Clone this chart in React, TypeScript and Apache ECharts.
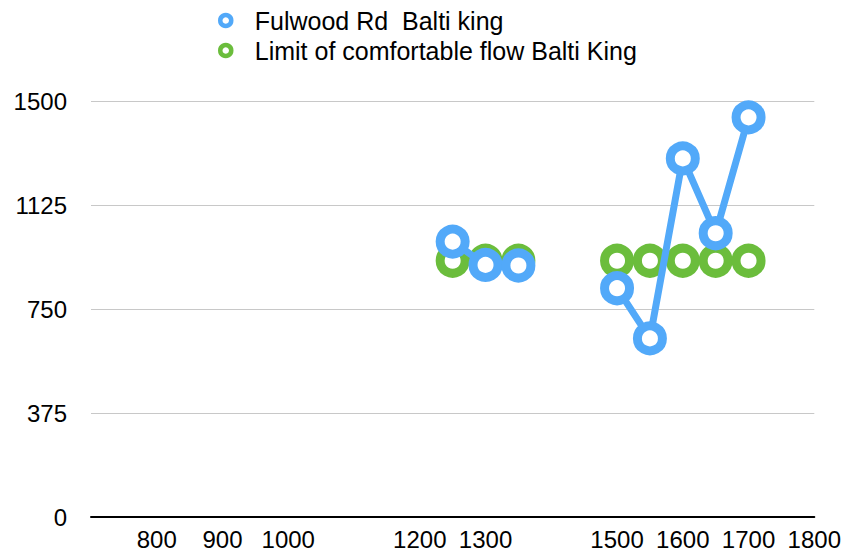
import React, { useEffect, useRef } from "react";
import * as echarts from "echarts";

const seriesNames = ["Fulwood Rd  Balti king", "Limit of comfortable flow Balti King"];
const times = [1250, 1300, 1350, 1400, 1500, 1550, 1600, 1650, 1700];
const fulwoodValues: (number | null)[] = [993, 909, 907, null, 825, 644, 1293, 1023, 1441];
const limitValues: (number | null)[] = [924, 924, 924, null, 924, 924, 924, 924, 924];
const xTickLabels = [800, 900, 1000, 1200, 1300, 1500, 1600, 1700, 1800];
const yTicks = [0, 375, 750, 1125, 1500];

const BLUE = "#52a9f9";
const GREEN = "#6bbd3c";
const FONT = "'Liberation Sans', Arial, Helvetica, sans-serif";

export default function App() {
  const ref = useRef<HTMLDivElement>(null);
  useEffect(() => {
    if (!ref.current) return;
    const chart = echarts.init(ref.current, undefined, { renderer: "svg" });
    const toData = (vals: (number | null)[]) =>
      times.map((t, i) => [t, vals[i] === null ? "-" : vals[i]]);
    chart.setOption({
      animation: false,
      backgroundColor: "#ffffff",
      grid: { left: 91, right: 29, top: 101, bottom: 37, containLabel: false },
      legend: {
        orient: "vertical",
        left: 218,
        top: 8,
        padding: 0,
        itemWidth: 48,
        itemHeight: 11,
        itemGap: 5,
        textStyle: { fontSize: 25, color: "#000", fontFamily: FONT },
        data: [
          { name: seriesNames[0], icon: "circle", itemStyle: { color: "#fff", borderColor: BLUE, borderWidth: 4.5 } },
          { name: seriesNames[1], icon: "circle", itemStyle: { color: "#fff", borderColor: GREEN, borderWidth: 4.5 } },
        ],
      },
      xAxis: {
        type: "value",
        min: 700,
        max: 1800,
        interval: 100,
        axisLine: { show: true, lineStyle: { color: "#000", width: 2 } },
        axisTick: { show: false },
        splitLine: { show: false },
        axisLabel: {
          fontSize: 24,
          color: "#000",
          fontFamily: FONT,
          margin: 10,
          formatter: (v: number) => (xTickLabels.includes(v) ? String(v) : ""),
        },
      },
      yAxis: {
        type: "value",
        min: yTicks[0],
        max: yTicks[yTicks.length - 1],
        interval: yTicks[1] - yTicks[0],
        axisLine: { show: false },
        axisTick: { show: false },
        splitLine: { show: true, lineStyle: { color: "#c8c8c8", width: 1 } },
        axisLabel: {
          fontSize: 24,
          color: "#000",
          fontFamily: FONT,
          margin: 24,
          formatter: (v: number) => String(v),
        },
      },
      series: [
        {
          name: seriesNames[1],
          type: "line",
          z: 2,
          data: toData(limitValues),
          connectNulls: false,
          symbol: "circle",
          symbolSize: 25,
          lineStyle: { color: GREEN, width: 7 },
          itemStyle: { color: "#fff", borderColor: GREEN, borderWidth: 9 },
        },
        {
          name: seriesNames[0],
          type: "line",
          z: 3,
          data: toData(fulwoodValues),
          connectNulls: false,
          symbol: "circle",
          symbolSize: 25,
          lineStyle: { color: BLUE, width: 7 },
          itemStyle: { color: "#fff", borderColor: BLUE, borderWidth: 9 },
        },
      ],
    });
    return () => chart.dispose();
  }, []);
  return (
    <div
      ref={ref}
      style={{ position: "fixed", left: 0, top: 0, width: 844, height: 554, background: "#fff" }}
    />
  );
}
